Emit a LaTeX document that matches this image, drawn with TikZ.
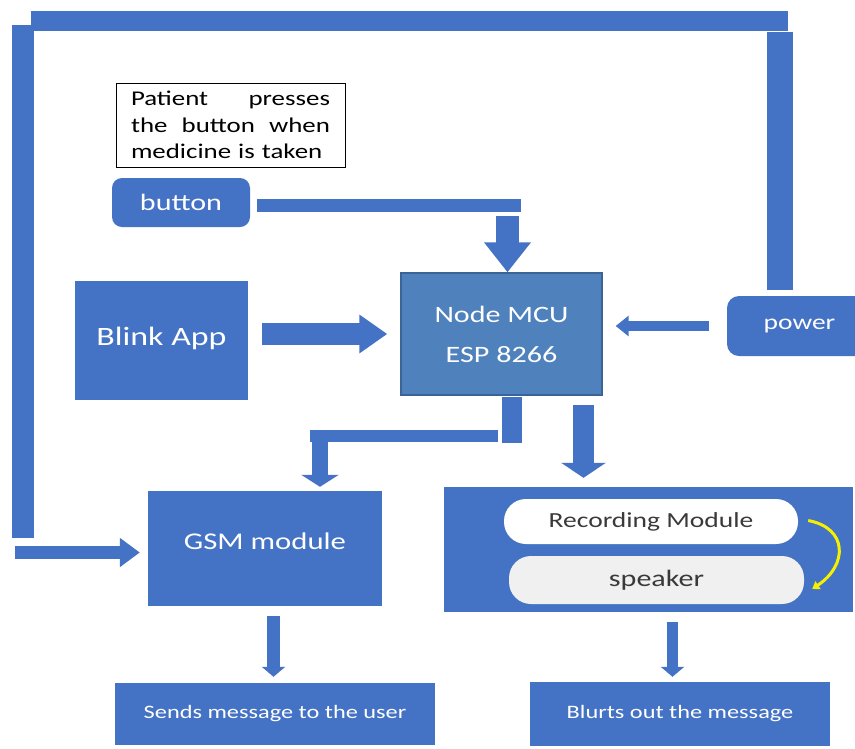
\documentclass[tikz,border=0pt]{standalone}
\usepackage{fontspec}
\setmainfont{Carlito}[FakeStretch=1.28]
\usetikzlibrary{arrows.meta}
\definecolor{bblue}{HTML}{4472C4}
\definecolor{mcublue}{HTML}{4F81BD}
\definecolor{mcuedge}{HTML}{3A6496}
\definecolor{ylw}{HTML}{F5F000}
\definecolor{spkgray}{HTML}{F0F0F0}
\definecolor{dtext}{HTML}{3A3A3A}
\newcommand{\fsz}[2]{\fontsize{#1}{#2}\selectfont}
\begin{document}
\begin{tikzpicture}[x=1pt,y=-1pt,
  blk/.style={fill=bblue, draw=none, inner sep=0pt, text=white, align=center},
  barw/.style={draw=bblue, line width=#1, line cap=butt},
  pill/.style={draw=none, inner sep=0pt, rounded corners=22pt, text=dtext}
]
\useasboundingbox (0,0) rectangle (855,748);
\fill[white] (0,0) rectangle (855,748);

% nodes
\node[draw=black, line width=0.8pt, fill=white, minimum width=229pt, minimum height=84pt,
      inner sep=0pt, text width=199pt, align=left, font=\fsz{21}{26.5}] (note) at (230.5,125)
  {\makebox[199pt]{Patient\hfill presses}\\\makebox[199pt]{the\hfill button\hfill when}\\medicine is taken};
\node[blk, rounded corners=10pt, minimum width=138pt, minimum height=49pt, font=\fsz{23.5}{27}] (button) at (181,202.5) {button};
\node[blk, minimum width=173pt, minimum height=119pt, text depth=9pt, font=\fsz{26.5}{30}] (blink) at (161.5,340.5) {Blink App};
\node[fill=mcublue, draw=mcuedge, line width=1.4pt, minimum width=201pt, minimum height=122pt,
      inner sep=0pt, text=white, align=center, font=\fsz{23.5}{40}] (mcu) at (501.5,334) {Node MCU\\ESP 8266};
\node[blk, rounded corners=12pt, minimum width=145pt, minimum height=60pt, font=\fsz{21.5}{25}] (power) at (799.5,326) {power};
\node[blk, minimum width=234pt, minimum height=115pt, text depth=14pt, font=\fsz{24}{28}] (gsm) at (265,548.5) {GSM module};
\node[blk, minimum width=409pt, minimum height=125pt] (recbox) at (648.5,549.5) {};
\node[pill, fill=white, minimum width=294pt, minimum height=45pt, font=\fsz{21.5}{25}] (rec) at (651,521.5) {Recording Module};
\node[pill, fill=spkgray, minimum width=295pt, minimum height=48pt, font=\fsz{23.5}{28}] (spk) at (656.5,580) {speaker};
\node[blk, minimum width=320pt, minimum height=62pt, font=\fsz{19}{22}] (sends) at (275,714) {Sends message to the user};
\node[blk, minimum width=300pt, minimum height=64pt, font=\fsz{19}{22}] (blurts) at (680,714) {Blurts out the message};

% coordinates of the block connectors
\coordinate (l1) at (23,25);   \coordinate (l2) at (23,538);
\coordinate (t1) at (31,21);   \coordinate (t2) at (788,21);
\coordinate (r1) at (780,32);  \coordinate (r2) at (780,290);
\coordinate (g1) at (15,552.5);  \coordinate (g2) at (gsm.west |- g1);
\coordinate (b1) at (257,205.5); \coordinate (b2) at (521,205.5);
\coordinate (b3) at (507.5,216); \coordinate (b4) at (mcu.north -| b3);
\coordinate (k1) at (262,334);   \coordinate (k2) at ([xshift=-13pt]mcu.west |- k1);
\coordinate (p1) at (709,326);   \coordinate (p2) at ([xshift=13pt]mcu.east |- p1);
\coordinate (m1) at (512,397);   \coordinate (m2) at (512,443);
\coordinate (m3) at (310,436);   \coordinate (m4) at (498,436);
\coordinate (m5) at (320,442);   \coordinate (m6) at (gsm.north -| m5);
\coordinate (n1) at (583.5,405); \coordinate (n2) at ([yshift=9pt]recbox.north -| n1);
\coordinate (s1) at (273.5,616); \coordinate (s2) at ([yshift=6pt]sends.north -| s1);
\coordinate (q1) at (672.5,622); \coordinate (q2) at ([yshift=5pt]blurts.north -| q1);

% connectors
\draw[barw=22pt] (l1) -- (l2);
\draw[barw=20pt] (t1) -- (t2);
\draw[barw=26pt] (r1) -- (r2);
\draw[barw=13pt, -{Triangle[width=28pt,length=20pt]}] (g1) -- ([xshift=-8pt]g2);
\draw[barw=13pt] (b1) -- (b2);
\draw[barw=23pt, -{Triangle[width=45pt,length=30pt]}] (b3) -- (b4);
\draw[barw=22pt, -{Triangle[width=37pt,length=28pt]}] (k1) -- (k2);
\draw[barw=10pt, -{Triangle[width=20pt,length=13pt]}] (p1) -- (p2);
\draw[barw=20pt] (m1) -- (m2);
\draw[barw=12pt] (m3) -- (m4);
\draw[barw=16pt, -{Triangle[width=37pt,length=12pt]}] (m5) -- ([yshift=4pt]m6);
\draw[barw=21pt, -{Triangle[width=44pt,length=15pt]}] (n1) -- (n2);
\draw[barw=13pt, -{Triangle[width=23pt,length=10pt]}] (s1) -- (s2);
\draw[barw=11pt, -{Triangle[width=23pt,length=10pt]}] (q1) -- (q2);

% yellow curved arrow from recording module to speaker
\draw[draw=ylw, line width=3pt, -{Triangle[width=9pt,length=7pt]}]
  ([xshift=10pt,yshift=1pt]rec.east) .. controls (848,528) and (848,565) .. ([xshift=8pt,yshift=-9pt]spk.east);
\end{tikzpicture}
\end{document}
